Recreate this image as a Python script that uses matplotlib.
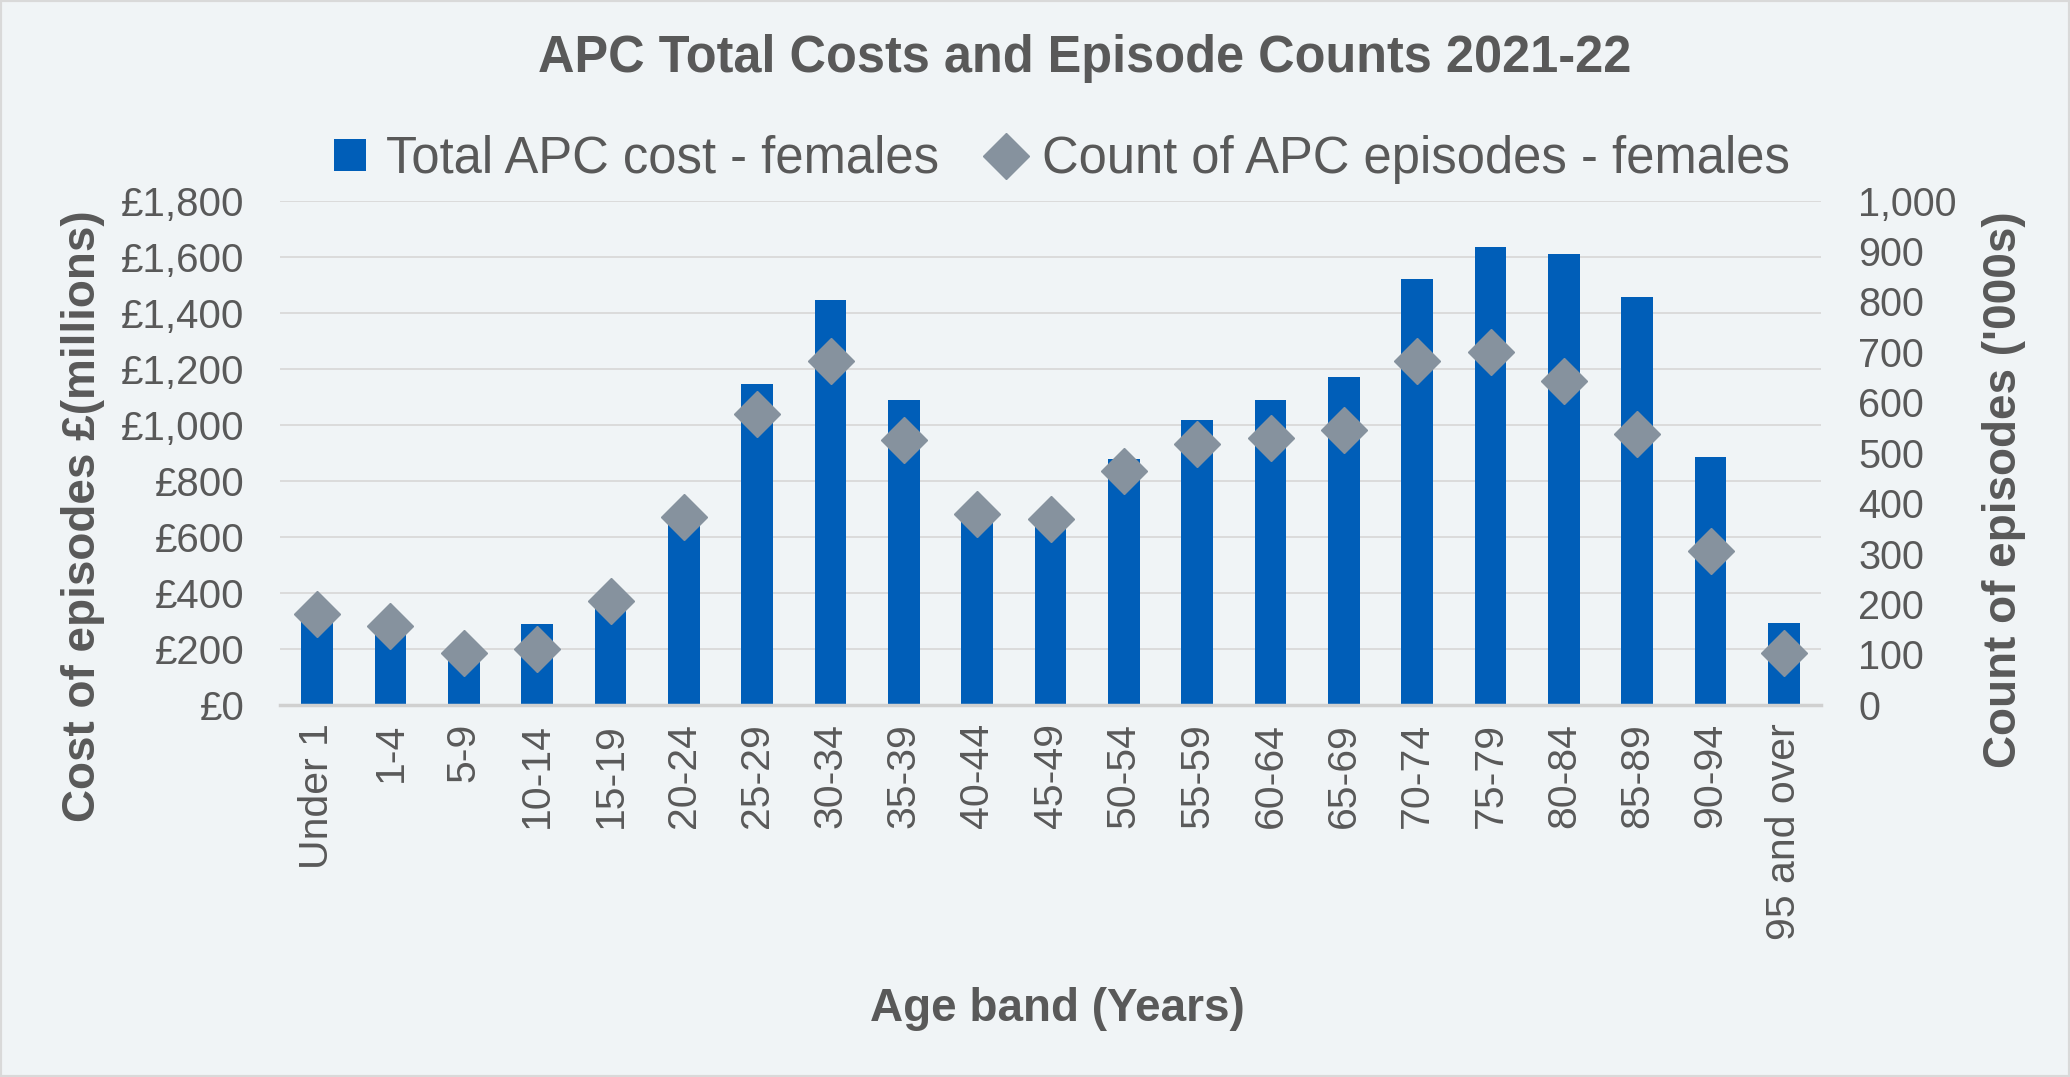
import matplotlib
matplotlib.use("Agg")
import matplotlib.pyplot as plt
from matplotlib.lines import Line2D
from matplotlib.patches import Patch, Rectangle
from matplotlib.ticker import FuncFormatter, MultipleLocator

age_bands = ["Under 1", "1-4", "5-9", "10-14", "15-19", "20-24", "25-29",
             "30-34", "35-39", "40-44", "45-49", "50-54", "55-59", "60-64",
             "65-69", "70-74", "75-79", "80-84", "85-89", "90-94", "95 and over"]

# total cost, £ millions
cost_females = [315, 270, 165, 290, 395, 670, 1146, 1444, 1087, 680, 660,
                877, 1016, 1090, 1169, 1520, 1636, 1610, 1457, 884, 293]

# episode counts, thousands
episodes_females = [180, 157, 102, 111, 205, 373, 576, 681, 525, 378, 369,
                    464, 517, 530, 545, 682, 700, 642, 537, 305, 102]

BG = "#F0F4F6"
TXT = "#595959"
BLUE = "#005EB8"
GREY = "#86929E"

plt.rcParams["font.family"] = ["Liberation Sans", "DejaVu Sans"]

fig = plt.figure(figsize=(20.7, 10.77), dpi=100, facecolor=BG)
fig.subplots_adjust(left=0.1355, right=0.8795, top=0.8137, bottom=0.3456)
ax = fig.add_subplot(111)
ax.set_facecolor(BG)
ax2 = ax.twinx()

x = range(len(age_bands))
ax.bar(x, cost_females, width=0.43, color=BLUE, zorder=2)
ax2.plot(x, episodes_females, linestyle="none", marker="D", markersize=23,
         color=GREY, zorder=3)

ax.set_xlim(-0.5, len(age_bands) - 0.5)
ax.set_ylim(0, 1800)
ax2.set_ylim(0, 1000)
ax.yaxis.set_major_locator(MultipleLocator(200))
ax2.yaxis.set_major_locator(MultipleLocator(100))
ax.yaxis.set_major_formatter(FuncFormatter(lambda v, p: "£{:,.0f}".format(v)))
ax2.yaxis.set_major_formatter(FuncFormatter(lambda v, p: "{:,.0f}".format(v)))

ax.set_xticks(list(x))
ax.set_xticklabels(age_bands, rotation=90)

ax.grid(axis="y", color="#D9D9D9", linewidth=1.3, zorder=0)
ax.set_axisbelow(True)
for a in (ax, ax2):
    for s in ("top", "left", "right", "bottom"):
        a.spines[s].set_visible(False)
ax.spines["bottom"].set_visible(True)
ax.spines["bottom"].set_color("#D0D0D0")
ax.spines["bottom"].set_linewidth(2.5)

ax.tick_params(axis="y", length=0, pad=26, labelsize=29, labelcolor=TXT)
ax2.tick_params(axis="y", length=0, pad=27, labelsize=28.5, labelcolor=TXT)
ax.tick_params(axis="x", length=0, pad=13, labelsize=29.5, labelcolor=TXT)

fig.text(0.524, 0.946, "APC Total Costs and Episode Counts 2021-22",
         ha="center", va="center", fontsize=36.4, fontweight="bold", color=TXT)
fig.text(0.040, 0.521, "Cost of episodes £(millions)", rotation=90,
         ha="center", va="center", fontsize=33, fontweight="bold", color=TXT)
fig.text(0.968, 0.545, "Count of episodes ('000s)", rotation=90,
         ha="center", va="center", fontsize=33, fontweight="bold", color=TXT)
fig.text(0.511, 0.063, "Age band (Years)", ha="center", va="center",
         fontsize=33, fontweight="bold", color=TXT)

handles = [Patch(facecolor=BLUE, edgecolor="none"),
           Line2D([], [], linestyle="none", marker="D", markersize=23,
                  color=GREY)]
labels = ["Total APC cost - females", "Count of APC episodes - females"]
fig.legend(handles, labels, loc="center", bbox_to_anchor=(0.513, 0.852),
           ncol=2, frameon=False, fontsize=36.5, labelcolor=TXT,
           handlelength=0.62, handleheight=0.62, handletextpad=0.4,
           columnspacing=1.0)

fig.patches.append(Rectangle((0, 0), 1, 1, transform=fig.transFigure,
                             fill=False, edgecolor="#D9D9D9", linewidth=3))

fig.savefig("out.png", dpi=100, facecolor=BG)
